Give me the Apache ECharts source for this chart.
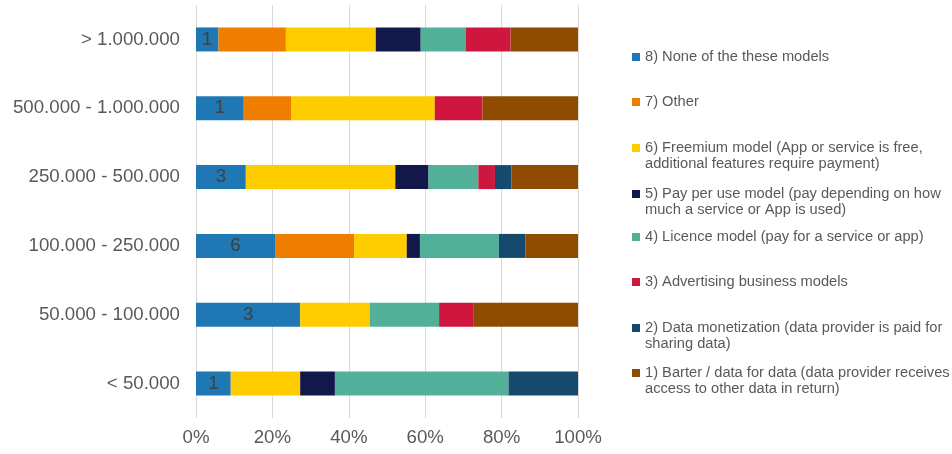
<!DOCTYPE html>
<html>
<head>
<meta charset="utf-8">
<script src="https://cdn.jsdelivr.net/npm/echarts@6/dist/echarts.min.js"></script>
<style>html,body{margin:0;padding:0;background:#fff;}#c{width:952px;height:454px;}</style>
</head>
<body>
<div id="c"></div>
<script>
const categories = ['> 1.000.000', '500.000 - 1.000.000', '250.000 - 500.000', '100.000 - 250.000', '50.000 - 100.000', '< 50.000'];
const seriesNames = [
  '8) None of the these models',
  '7) Other',
  '6) Freemium model (App or service is free,',
  '5) Pay per use model (pay depending on how',
  '4) Licence model (pay for a service or app)',
  '3) Advertising business models',
  '2) Data monetization (data provider is paid for',
  '1) Barter / data for data (data provider receives'
];
const secondLines = ['', '', 'additional features require payment)', 'much a service or App is used)', '', '', 'sharing data)', 'access to other data in return)'];
// counts per category (same order as categories)
const noneOfThese = [1, 1, 3, 6, 3, 1];
const other = [3, 1, 0, 6, 0, 0];
const freemium = [4, 3, 9, 4, 2, 2];
const payPerUse = [2, 0, 2, 1, 0, 1];
const licence = [2, 0, 3, 6, 2, 5];
const advertising = [2, 1, 1, 0, 1, 0];
const dataMonetization = [0, 0, 1, 2, 0, 2];
const barter = [3, 2, 4, 4, 3, 0];
const xTicks = [0, 20, 40, 60, 80, 100];

const allCounts = [noneOfThese, other, freemium, payPerUse, licence, advertising, dataMonetization, barter];
const colors = ['#1F77B4', '#EF7D00', '#FFCC00', '#12194A', '#52B098', '#CF163F', '#154A6E', '#8F4B00'];
const totals = categories.map((_, i) => allCounts.reduce((s, arr) => s + arr[i], 0));

const font = '"Liberation Sans", Arial, sans-serif';
const textColor = '#595959';
const bigFont = 18.67;
const legFont = 14.67;

const series = allCounts.map((arr, k) => ({
  name: seriesNames[k],
  type: 'bar',
  stack: 'total',
  barWidth: 24,
  itemStyle: { color: colors[k] },
  label: k === 0 ? {
    show: true, position: 'inside', color: '#404040', fontSize: bigFont, fontFamily: font,
    formatter: p => String(arr[p.dataIndex])
  } : { show: false },
  emphasis: { disabled: true },
  data: arr.map((v, i) => v / totals[i] * 100)
}));

const legendCenters = [57, 102, 148, 194, 237, 282, 328, 373];
const legends = seriesNames.map((n, k) => ({
  data: [n], orient: 'vertical', left: 632, top: legendCenters[k] - 8, padding: 0,
  itemWidth: 8, itemHeight: 8, icon: 'rect', selectedMode: false,
  textStyle: { fontSize: legFont, fontFamily: font, color: textColor, lineHeight: 16 }
}));
const graphics = [];
secondLines.forEach((t, k) => {
  if (t) graphics.push({
    type: 'text', left: 645, top: legendCenters[k] + 8,
    style: { text: t, fontSize: legFont, fontFamily: font, fill: textColor }
  });
});

const chart = echarts.init(document.getElementById('c'), null, { renderer: 'canvas' });
chart.setOption({
  animation: false,
  grid: { left: 196, right: 374, top: 5, bottom: 36, containLabel: false },
  xAxis: {
    type: 'value', min: xTicks[0], max: xTicks[xTicks.length - 1], interval: xTicks[1] - xTicks[0],
    axisLine: { show: false }, axisTick: { show: false },
    splitLine: { show: true, lineStyle: { color: '#D9D9D9', width: 1 } },
    axisLabel: { formatter: '{value}%', fontSize: bigFont, fontFamily: font, color: textColor, margin: 10 }
  },
  yAxis: {
    type: 'category', data: categories, inverse: true,
    axisLine: { show: false }, axisTick: { show: false },
    axisLabel: { fontSize: bigFont, fontFamily: font, color: textColor, margin: 16 }
  },
  legend: legends,
  graphic: graphics,
  series: series
});
</script>
</body>
</html>
